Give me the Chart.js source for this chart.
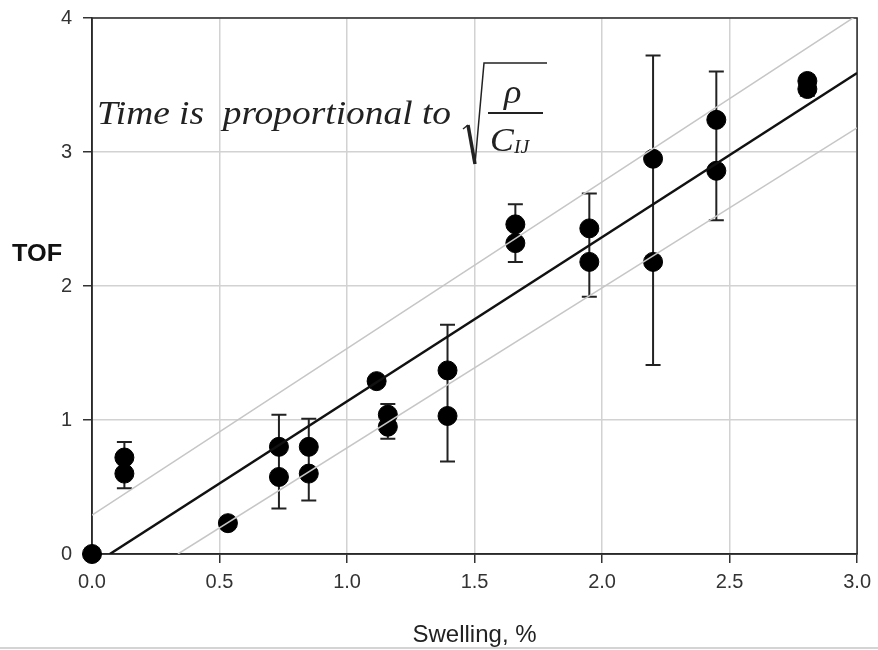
<!DOCTYPE html>
<html>
<head>
<meta charset="utf-8">
<script src="https://cdn.jsdelivr.net/npm/chart.js@4.4.1/dist/chart.umd.min.js"></script>
<style>
  html, body { margin: 0; padding: 0; background: #fff; }
  #wrap { width: 878px; height: 650px; position: relative; }
</style>
</head>
<body>
<div id="wrap"><canvas id="tofChart" width="878" height="650"></canvas></div>
<script>
// measured points: swelling (%) and TOF, two replicates where available
const swelling  = [0, 0.127, 0.533, 0.733, 0.85, 1.116, 1.16, 1.394, 1.66, 1.95, 2.20, 2.448, 2.805];
const tofUpper  = [0, 0.72, 0.23, 0.80, 0.80, 1.29, 1.04, 1.37, 2.46, 2.43, 2.95, 3.24, 3.53];
const tofLower  = [null, 0.60, null, 0.575, 0.60, null, 0.95, 1.03, 2.32, 2.18, 2.18, 2.86, 3.47];
const errTop    = [null, 0.835, null, 1.04, 1.01, null, 1.12, 1.71, 2.61, 2.69, 3.72, 3.60, 3.57];
const errBottom = [null, 0.49, null, 0.34, 0.40, null, 0.86, 0.69, 2.18, 1.92, 1.41, 2.49, 3.42];

// regression line and its bands (end points)
const fitX   = [0.07, 3.0];
const fitY   = [0, 3.59];
const bandHiX = [0, 3.0];
const bandHiY = [0.29, 4.02];
const bandLoX = [0.337, 3.0];
const bandLoY = [0, 3.18];

const xTicks = [0, 0.5, 1.0, 1.5, 2.0, 2.5, 3.0];
const yTicks = [0, 1, 2, 3, 4];

const toPts = (xs, ys) => xs.map((x, i) => ({ x: x, y: ys[i] })).filter(p => p.y !== null);

const pointData = toPts(swelling, tofUpper).concat(toPts(swelling, tofLower));

// text in the reference is a little wider than tall
function wideText(ctx, text, x, y, stretch) {
    ctx.save();
    ctx.translate(x, y);
    ctx.scale(stretch, 1);
    ctx.fillText(text, 0, 0);
    ctx.restore();
}

const errorBars = {
    id: 'errorBars',
    beforeDatasetsDraw(chart) {
        const { ctx, chartArea, scales: { x, y } } = chart;
        ctx.save();
        // dark frame round the plot
        ctx.strokeStyle = '#2a2a2a';
        ctx.lineWidth = 1.5;
        ctx.strokeRect(chartArea.left, chartArea.top, chartArea.right - chartArea.left, chartArea.bottom - chartArea.top);
        // error bars
        ctx.strokeStyle = '#222';
        ctx.lineWidth = 2;
        swelling.forEach((sx, i) => {
            if (errTop[i] === null) return;
            const px = x.getPixelForValue(sx);
            const t = y.getPixelForValue(errTop[i]);
            const b = y.getPixelForValue(errBottom[i]);
            ctx.beginPath();
            ctx.moveTo(px, t); ctx.lineTo(px, b);
            ctx.moveTo(px - 7.5, t); ctx.lineTo(px + 7.5, t);
            ctx.moveTo(px - 7.5, b); ctx.lineTo(px + 7.5, b);
            ctx.stroke();
        });
        ctx.restore();
    },
    afterDraw(chart) {
        const ctx = chart.ctx;
        ctx.save();
        // y axis label, horizontal
        ctx.fillStyle = '#111';
        ctx.font = 'bold 23px "Liberation Sans", Arial, sans-serif';
        ctx.textBaseline = 'middle';
        ctx.textAlign = 'left';
        wideText(ctx, 'TOF', 12, 255, 1.1);

        // formula annotation
        ctx.fillStyle = '#222';
        ctx.font = 'italic 34px "Liberation Serif", "Times New Roman", serif';
        ctx.textBaseline = 'alphabetic';
        wideText(ctx, 'Time is  proportional to', 97, 124, 1.1);
        ctx.font = 'italic 33px "Liberation Serif", "Times New Roman", serif';
        wideText(ctx, '\u03C1', 504, 103, 1.1);
        ctx.font = 'italic 34px "Liberation Serif", "Times New Roman", serif';
        wideText(ctx, 'C', 490, 151, 1.05);
        ctx.font = 'italic 18px "Liberation Serif", "Times New Roman", serif';
        wideText(ctx, 'IJ', 514, 153, 1.1);

        ctx.strokeStyle = '#222';
        ctx.lineWidth = 2;
        ctx.beginPath();
        ctx.moveTo(488, 113); ctx.lineTo(543, 113);
        ctx.stroke();
        // radical sign
        ctx.lineWidth = 1.5;
        ctx.beginPath();
        ctx.moveTo(463, 129); ctx.lineTo(468, 125);
        ctx.stroke();
        ctx.lineWidth = 3.5;
        ctx.beginPath();
        ctx.moveTo(468, 125); ctx.lineTo(475, 164);
        ctx.stroke();
        ctx.lineWidth = 1.5;
        ctx.beginPath();
        ctx.moveTo(475, 164); ctx.lineTo(484, 63); ctx.lineTo(547, 63);
        ctx.stroke();

        // faint rule at bottom of figure
        ctx.strokeStyle = '#d4d4d4';
        ctx.lineWidth = 2;
        ctx.beginPath();
        ctx.moveTo(0, 648); ctx.lineTo(878, 648);
        ctx.stroke();
        ctx.restore();
    }
};

new Chart(document.getElementById('tofChart').getContext('2d'), {
    type: 'scatter',
    data: {
        datasets: [
            {
                label: 'Upper band',
                data: toPts(bandHiX, bandHiY),
                showLine: true,
                borderColor: '#c6c6c6',
                borderWidth: 1.5,
                pointRadius: 0
            },
            {
                label: 'Lower band',
                data: toPts(bandLoX, bandLoY),
                showLine: true,
                borderColor: '#c6c6c6',
                borderWidth: 1.5,
                pointRadius: 0
            },
            {
                label: 'Fit',
                data: toPts(fitX, fitY),
                showLine: true,
                borderColor: '#111',
                borderWidth: 2.5,
                pointRadius: 0
            },
            {
                label: 'TOF',
                data: pointData,
                backgroundColor: '#000',
                borderColor: '#000',
                pointRadius: 9.5,
                pointHoverRadius: 9.5,
                clip: false
            }
        ]
    },
    options: {
        responsive: false,
        animation: false,
        layout: { padding: { top: 18, right: 20, left: 0, bottom: 0 } },
        plugins: {
            legend: { display: false },
            tooltip: { enabled: false }
        },
        scales: {
            x: {
                type: 'linear',
                min: 0,
                max: 3,
                afterFit: (scale) => { scale.height = 96; },
                afterBuildTicks: (scale) => { scale.ticks = xTicks.map(v => ({ value: v })); },
                grid: { color: '#d2d2d2', lineWidth: 1.5, tickLength: 9, tickColor: '#333' },
                border: { color: '#2a2a2a', width: 1.5 },
                ticks: {
                    padding: 7,
                    color: '#333',
                    font: { family: '"Liberation Sans", Arial, sans-serif', size: 20 },
                    callback: (v) => Number(v).toFixed(1)
                },
                title: {
                    display: true,
                    text: 'Swelling, %',
                    color: '#222',
                    font: { family: '"Liberation Sans", Arial, sans-serif', size: 24 },
                    padding: { top: 0, bottom: 0 }
                }
            },
            y: {
                type: 'linear',
                min: 0,
                max: 4,
                afterFit: (scale) => {
                    scale.width = 92;
                    scale.paddingTop = 0;
                    scale.paddingBottom = 0;
                },
                afterBuildTicks: (scale) => { scale.ticks = yTicks.map(v => ({ value: v })); },
                grid: { color: '#d2d2d2', lineWidth: 1.5, tickLength: 9, tickColor: '#333' },
                border: { color: '#2a2a2a', width: 1.5 },
                ticks: {
                    padding: 11,
                    color: '#333',
                    font: { family: '"Liberation Sans", Arial, sans-serif', size: 20 }
                }
            }
        }
    },
    plugins: [errorBars]
});
</script>
</body>
</html>
